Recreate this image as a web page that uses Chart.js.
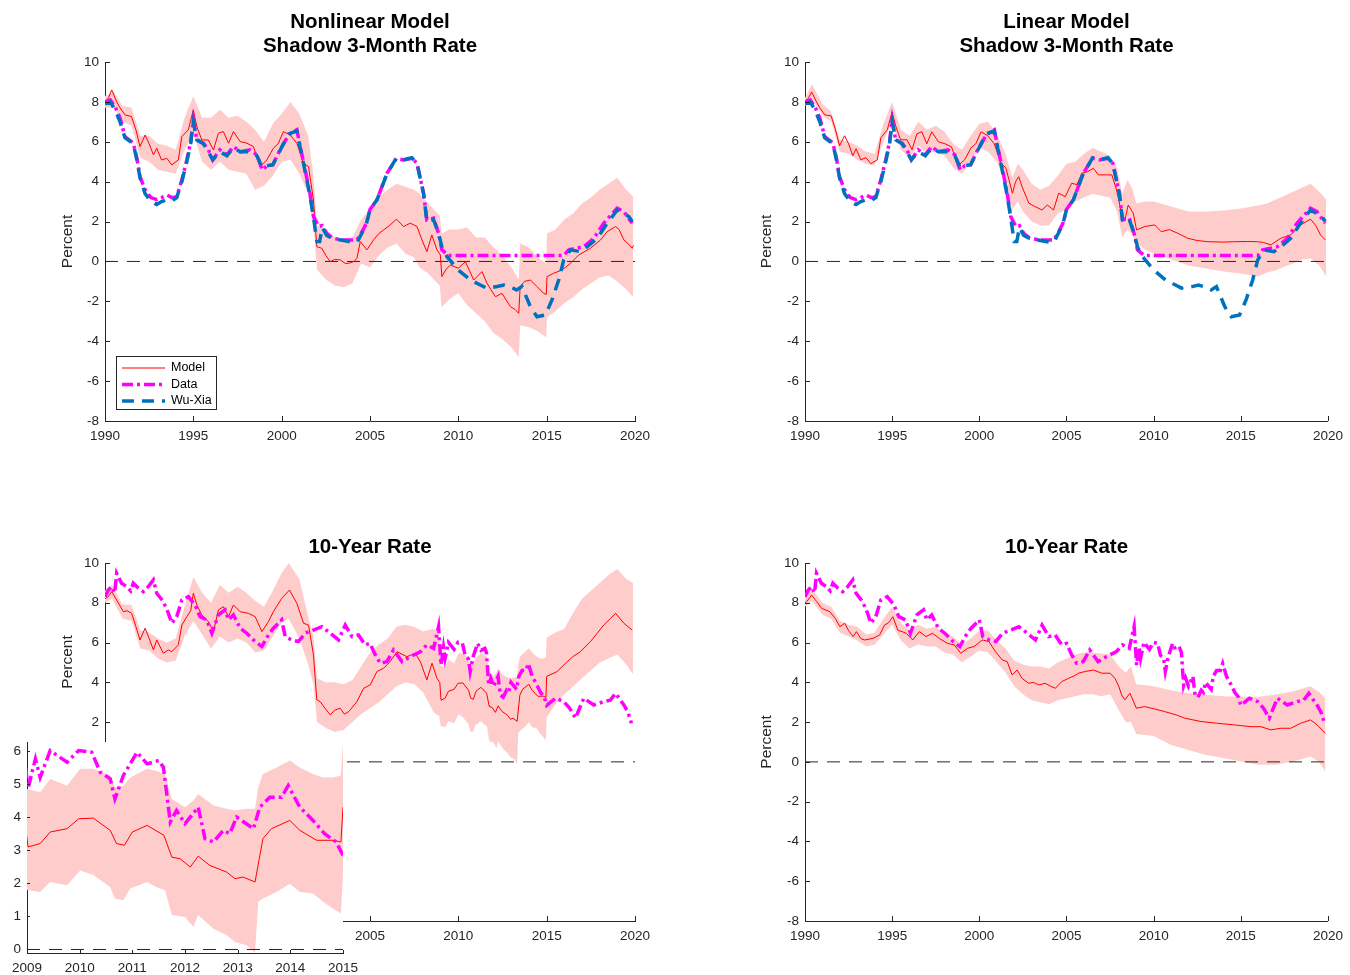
<!DOCTYPE html>
<html>
<head>
<meta charset="utf-8">
<title>Shadow Rates and 10-Year Rates</title>
<script src="https://cdn.jsdelivr.net/npm/chart.js@4.4.1/dist/chart.umd.min.js"></script>
<style>
  html, body { margin: 0; padding: 0; background: #ffffff; }
  #stage { position: relative; width: 1350px; height: 975px; overflow: hidden; }
  #stage canvas { position: absolute; left: 0; top: 0; }
</style>
</head>
<body>
<div id="stage">
  <canvas id="nlShort" width="1350" height="975"></canvas>
  <canvas id="linShort" width="1350" height="975"></canvas>
  <canvas id="nlLong" width="1350" height="975"></canvas>
  <canvas id="linLong" width="1350" height="975"></canvas>
  <canvas id="nlLongZoom" width="1350" height="975"></canvas>
</div>
<script>
// ---------- tick labels ----------
const yearTicks = [1990, 1995, 2000, 2005, 2010, 2015, 2020];
const rateTicks = [-8, -6, -4, -2, 0, 2, 4, 6, 8, 10];
const zoomYearTicks = [2009, 2010, 2011, 2012, 2013, 2014, 2015];
const zoomRateTicks = [0, 1, 2, 3, 4, 5, 6];

// ---------- observed 3-month rate ----------
const shortDataYears = [1990.0, 1990.3, 1990.57, 1990.85, 1991.13, 1991.6, 1991.8, 1991.98, 1992.27, 1992.6, 1992.93, 1993.2, 1993.5, 1993.8, 1994.06, 1994.35, 1994.63, 1994.85, 1995.0, 1995.2, 1995.57, 1995.85, 1996.1, 1996.5, 1996.9, 1997.27, 1997.65, 1998.2, 1998.6, 1998.9, 1999.16, 1999.5, 1999.9, 2000.4, 2000.86, 2001.05, 2001.33, 2001.6, 2001.8, 2002.1, 2002.3, 2002.55, 2002.9, 2003.5, 2004.26, 2004.5, 2004.8, 2005.0, 2005.4, 2005.96, 2006.5, 2006.9, 2007.37, 2007.66, 2008.03, 2008.22, 2008.6, 2008.88, 2009.07, 2009.45, 2015.97, 2016.25, 2017.1, 2017.67, 2018.23, 2018.99, 2019.37, 2019.84];
const shortDataValues = [8.0, 8.1, 7.76, 7.2, 6.26, 5.94, 5.2, 4.25, 3.6, 3.2, 3.1, 3.2, 3.33, 3.2, 3.25, 4.09, 5.09, 6.0, 7.1, 6.09, 5.93, 5.6, 5.09, 5.6, 5.34, 5.76, 5.5, 5.6, 5.34, 4.59, 4.79, 4.84, 5.59, 6.34, 6.6, 5.76, 4.59, 3.42, 2.25, 1.75, 1.8, 1.41, 1.16, 1.08, 1.08, 1.4, 1.92, 2.6, 3.1, 4.42, 5.17, 5.09, 5.17, 4.92, 3.42, 2.08, 2.17, 1.41, 0.58, 0.3, 0.3, 0.58, 0.74, 1.16, 1.92, 2.67, 2.5, 1.92];

// ---------- Wu-Xia shadow rate ----------
const wuXiaYears = [1990.0, 1990.3, 1990.57, 1990.85, 1991.13, 1991.6, 1991.8, 1991.98, 1992.27, 1992.6, 1992.93, 1993.2, 1993.5, 1993.8, 1994.06, 1994.35, 1994.63, 1994.85, 1995.0, 1995.2, 1995.57, 1995.85, 1996.1, 1996.5, 1996.9, 1997.27, 1997.65, 1998.2, 1998.6, 1998.9, 1999.16, 1999.5, 1999.9, 2000.4, 2000.86, 2001.05, 2001.33, 2001.6, 2001.8, 2002.0, 2002.15, 2002.3, 2002.55, 2002.9, 2003.5, 2004.1, 2004.3, 2004.5, 2004.8, 2005.0, 2005.4, 2005.96, 2006.5, 2006.9, 2007.37, 2007.66, 2008.03, 2008.22, 2008.6, 2008.88, 2009.07, 2009.36, 2010.0, 2010.68, 2011.25, 2011.6, 2012.2, 2012.57, 2013.0, 2013.3, 2013.6, 2014.08, 2014.45, 2014.93, 2015.3, 2015.68, 2015.97, 2016.35, 2016.9, 2017.3, 2017.86, 2018.3, 2018.99, 2019.65, 2019.84];
const wuXiaValues = [7.9, 8.0, 7.6, 7.0, 6.2, 5.9, 5.1, 4.2, 3.4, 3.0, 2.85, 3.0, 3.1, 3.05, 3.2, 4.0, 5.0, 5.9, 7.0, 6.1, 5.9, 5.5, 5.1, 5.5, 5.3, 5.7, 5.5, 5.5, 5.3, 4.7, 4.8, 4.85, 5.55, 6.4, 6.55, 5.7, 4.5, 3.3, 2.2, 1.0, 1.0, 1.7, 1.3, 1.15, 1.05, 0.95, 1.0, 1.35, 1.9, 2.6, 3.1, 4.4, 5.2, 5.1, 5.2, 4.9, 3.4, 2.0, 2.1, 1.4, 0.74, 0.24, -0.43, -0.93, -1.18, -1.34, -1.26, -1.18, -1.3, -1.43, -1.26, -2.27, -2.77, -2.68, -1.93, -0.93, 0.08, 0.58, 0.49, 0.74, 1.16, 1.75, 2.58, 2.25, 2.0];

// ---------- nonlinear model, shadow 3-month rate ----------
const nlShortYears = [1990.0, 1990.2, 1990.38, 1990.66, 1990.85, 1991.13, 1991.5, 1991.75, 1991.98, 1992.27, 1992.5, 1992.74, 1992.93, 1993.2, 1993.5, 1993.78, 1994.15, 1994.35, 1994.72, 1995.0, 1995.2, 1995.48, 1995.85, 1996.14, 1996.42, 1996.7, 1996.99, 1997.27, 1997.65, 1998.03, 1998.4, 1998.78, 1999.16, 1999.53, 1999.8, 2000.1, 2000.48, 2000.86, 2001.24, 2001.52, 2001.8, 2001.99, 2002.27, 2002.5, 2002.75, 2003.0, 2003.31, 2003.6, 2003.8, 2004.1, 2004.26, 2004.45, 2004.83, 2005.2, 2005.5, 2005.77, 2006.1, 2006.5, 2006.9, 2007.28, 2007.66, 2007.94, 2008.22, 2008.5, 2008.79, 2008.98, 2009.07, 2009.3, 2009.55, 2010.0, 2010.4, 2010.87, 2011.34, 2011.62, 2012.1, 2012.47, 2012.95, 2013.2, 2013.42, 2013.5, 2013.75, 2014.08, 2014.45, 2014.83, 2014.98, 2015.02, 2015.4, 2015.87, 2016.35, 2016.82, 2017.48, 2018.05, 2018.42, 2018.9, 2019.1, 2019.37, 2019.6, 2019.84, 2019.92];
const nlShortValues = [8.0, 8.2, 8.6, 8.0, 7.7, 7.35, 7.26, 6.6, 5.76, 6.34, 5.9, 5.34, 5.67, 5.09, 5.17, 4.84, 5.09, 6.26, 6.6, 7.6, 6.76, 6.09, 6.09, 5.59, 6.43, 6.51, 5.93, 6.51, 6.01, 5.93, 5.76, 4.75, 5.09, 5.68, 5.9, 6.51, 6.34, 5.93, 4.92, 4.75, 3.08, 0.74, 0.66, 0.3, -0.01, 0.1, 0.08, -0.1, -0.09, 0.0, 0.16, 0.99, 0.58, 1.08, 1.4, 1.58, 1.8, 2.12, 1.75, 1.92, 1.75, 1.08, 0.49, 1.33, 0.58, 0.33, -0.76, -0.4, -0.18, -0.34, -0.01, -0.93, -0.51, -1.09, -1.77, -1.6, -2.27, -2.4, -2.6, -1.26, -1.0, -0.93, -1.26, -1.6, -1.65, -0.76, -0.59, -0.43, -0.09, 0.33, 0.66, 1.08, 1.49, 1.75, 1.6, 1.08, 0.9, 0.66, 0.8];
const nlShortBandYears = [1990.0, 1990.5, 1991.0, 1991.5, 1992.0, 1992.5, 1993.0, 1993.5, 1994.0, 1994.5, 1995.0, 1995.5, 1996.0, 1996.5, 1997.0, 1997.5, 1998.0, 1998.5, 1999.0, 1999.5, 2000.0, 2000.5, 2001.0, 2001.5, 2001.8, 2002.0, 2002.5, 2003.0, 2003.5, 2004.0, 2004.5, 2005.0, 2005.5, 2006.0, 2006.5, 2007.0, 2007.5, 2007.8, 2008.3, 2008.6, 2008.95, 2009.05, 2009.5, 2010.0, 2010.5, 2011.0, 2011.5, 2012.0, 2012.5, 2013.0, 2013.42, 2013.5, 2014.0, 2014.5, 2014.97, 2015.02, 2015.5, 2016.0, 2016.5, 2017.0, 2017.5, 2018.0, 2018.5, 2019.0, 2019.5, 2019.9];
const nlShortBandLo = [7.7, 7.7, 7.0, 6.8, 5.2, 5.0, 4.6, 4.5, 4.4, 5.6, 6.4, 5.0, 4.6, 5.0, 4.6, 4.5, 4.4, 3.6, 3.8, 4.3, 5.0, 5.1, 4.4, 3.4, 1.8, -0.4, -0.9, -1.2, -1.3, -1.1, -0.1, -0.3, 0.3, 0.7, 0.9, 0.4, 0.2, -0.3, -0.6, -0.9, -1.2, -2.3, -1.9, -1.6, -2.2, -2.6, -3.0, -3.6, -3.9, -4.3, -4.8, -3.2, -3.3, -3.5, -3.8, -2.8, -2.5, -2.1, -1.8, -1.4, -1.1, -0.8, -0.7, -1.0, -1.4, -1.8];
const nlShortBandHi = [8.3, 8.5, 7.8, 7.7, 6.3, 6.3, 5.9, 5.8, 5.6, 7.2, 8.3, 7.2, 7.2, 7.6, 7.2, 7.3, 7.0, 6.6, 6.0, 6.9, 7.4, 8.0, 7.4, 6.3, 4.3, 1.8, 1.6, 1.2, 1.1, 1.2, 2.1, 2.6, 3.2, 3.6, 3.9, 3.75, 3.6, 3.4, 2.9, 2.6, 2.3, 1.4, 1.6, 1.6, 1.7, 1.2, 1.2, 0.7, 0.3, -0.3, -0.9, 0.9, 0.7, 0.2, -0.1, 1.4, 1.6, 2.1, 2.4, 2.9, 3.2, 3.6, 3.9, 4.2, 3.6, 3.25];

// ---------- linear model, shadow 3-month rate ----------
const linShortYears = [1990.0, 1990.2, 1990.38, 1990.66, 1990.85, 1991.13, 1991.5, 1991.75, 1991.98, 1992.27, 1992.5, 1992.74, 1992.93, 1993.2, 1993.5, 1993.78, 1994.15, 1994.35, 1994.72, 1995.0, 1995.2, 1995.48, 1995.85, 1996.14, 1996.42, 1996.7, 1996.99, 1997.27, 1997.65, 1998.03, 1998.4, 1998.78, 1999.16, 1999.53, 1999.8, 2000.1, 2000.48, 2000.86, 2001.24, 2001.52, 2001.9, 2002.08, 2002.26, 2002.45, 2002.84, 2003.2, 2003.6, 2003.9, 2004.26, 2004.55, 2004.93, 2005.3, 2005.6, 2005.88, 2006.2, 2006.54, 2006.83, 2007.21, 2007.6, 2007.87, 2008.16, 2008.35, 2008.54, 2008.83, 2009.02, 2009.49, 2010.06, 2010.44, 2010.9, 2011.39, 2011.96, 2012.5, 2013.1, 2014.0, 2014.63, 2015.4, 2015.96, 2016.3, 2016.72, 2017.29, 2017.86, 2018.43, 2019.0, 2019.3, 2019.57, 2019.85];
const linShortValues = [8.0, 8.2, 8.5, 8.0, 7.7, 7.35, 7.3, 6.6, 5.8, 6.3, 5.9, 5.3, 5.65, 5.1, 5.2, 4.9, 5.1, 6.2, 6.6, 7.5, 6.8, 6.1, 6.1, 5.6, 6.4, 6.5, 5.9, 6.5, 6.0, 5.9, 5.75, 4.8, 5.1, 5.7, 5.9, 6.5, 6.3, 5.9, 4.92, 4.7, 3.42, 4.0, 4.25, 3.75, 2.92, 2.75, 2.58, 2.83, 2.58, 3.42, 3.25, 3.92, 3.85, 4.42, 4.5, 4.67, 4.34, 4.34, 4.34, 3.59, 2.42, 2.08, 2.83, 2.42, 1.58, 1.75, 1.83, 1.49, 1.6, 1.41, 1.16, 1.05, 0.99, 0.97, 0.99, 1.0, 0.99, 0.95, 0.83, 1.16, 1.33, 1.83, 2.12, 1.8, 1.33, 1.08];
const linShortBandYears = [1990.0, 1990.4, 1991.0, 1991.5, 1992.0, 1992.5, 1993.0, 1993.5, 1994.0, 1994.5, 1995.0, 1995.5, 1996.0, 1996.5, 1997.0, 1997.5, 1998.0, 1998.5, 1999.0, 1999.5, 2000.0, 2000.5, 2001.0, 2001.5, 2001.9, 2002.2, 2002.5, 2003.0, 2003.5, 2004.0, 2004.5, 2005.0, 2005.5, 2006.0, 2006.5, 2007.0, 2007.5, 2007.9, 2008.2, 2008.5, 2008.8, 2009.0, 2009.5, 2010.0, 2011.0, 2012.0, 2013.0, 2014.0, 2015.0, 2016.0, 2016.5, 2017.0, 2017.5, 2018.0, 2018.5, 2019.0, 2019.5, 2019.9];
const linShortBandLo = [7.8, 8.2, 7.3, 7.0, 5.5, 5.4, 5.1, 4.9, 4.8, 6.0, 7.0, 5.6, 5.2, 5.8, 5.4, 5.5, 5.3, 4.7, 4.4, 5.0, 5.7, 5.5, 5.0, 3.9, 2.6, 3.0, 2.5, 2.0, 1.8, 1.8, 2.4, 2.6, 3.0, 3.2, 3.4, 3.3, 3.2, 2.5, 1.2, 1.6, 1.3, 0.9, 0.6, 0.4, 0.1, -0.2, -0.35, -0.5, -0.6, -0.75, -0.55, -0.45, -0.25, -0.1, 0.1, 0.15, -0.2, -0.75];
const linShortBandHi = [8.2, 8.9, 7.9, 7.5, 6.1, 6.0, 5.8, 5.5, 5.4, 6.9, 8.0, 6.6, 6.3, 7.0, 6.6, 6.8, 6.5, 5.9, 5.6, 6.3, 6.9, 7.0, 6.4, 5.4, 4.2, 4.9, 4.6, 3.9, 3.6, 3.8, 4.3, 4.9, 5.0, 5.4, 5.7, 5.5, 5.3, 4.7, 3.4, 4.1, 3.6, 2.9, 3.0, 3.0, 2.75, 2.5, 2.5, 2.55, 2.65, 2.8, 2.9, 3.1, 3.3, 3.5, 3.7, 3.9, 3.5, 3.1];

// ---------- observed 10-year rate ----------
const longDataYears = [1990.0, 1990.19, 1990.38, 1990.55, 1990.66, 1990.94, 1991.23, 1991.45, 1991.6, 1991.89, 1992.17, 1992.45, 1992.74, 1992.93, 1993.3, 1993.59, 1993.78, 1994.06, 1994.35, 1994.72, 1995.1, 1995.38, 1995.76, 1996.05, 1996.42, 1996.8, 1996.99, 1997.27, 1997.65, 1998.02, 1998.5, 1998.88, 1999.25, 1999.53, 2000.0, 2000.2, 2000.58, 2000.95, 2001.33, 2001.8, 2002.27, 2002.75, 2003.22, 2003.6, 2003.98, 2004.35, 2004.73, 2005.0, 2005.3, 2005.58, 2005.96, 2006.33, 2006.81, 2007.28, 2007.85, 2008.22, 2008.6, 2008.88, 2009.02, 2009.16, 2009.25, 2009.44, 2009.76, 2009.98, 2010.23, 2010.39, 2010.58, 2010.67, 2010.83, 2011.09, 2011.28, 2011.5, 2011.59, 2011.72, 2011.84, 2012.0, 2012.25, 2012.38, 2012.54, 2012.73, 2012.85, 2012.98, 2013.3, 2013.42, 2013.61, 2013.83, 2013.96, 2014.18, 2014.43, 2014.65, 2014.87, 2015.0, 2015.5, 2015.97, 2016.3, 2016.63, 2017.1, 2017.67, 2018.23, 2018.6, 2018.9, 2019.37, 2019.6, 2019.8];
const longDataValues = [8.3, 8.64, 8.81, 8.5, 9.48, 8.98, 8.81, 8.6, 8.98, 8.73, 8.56, 8.81, 9.15, 8.48, 8.06, 7.47, 6.97, 7.3, 8.14, 8.31, 7.89, 7.3, 7.14, 6.47, 7.39, 7.64, 7.14, 7.39, 6.72, 6.47, 6.05, 5.8, 6.38, 6.72, 7.14, 6.3, 6.13, 6.05, 6.47, 6.63, 6.8, 6.47, 6.13, 6.88, 6.3, 6.38, 5.88, 5.96, 5.38, 4.96, 5.04, 5.63, 5.04, 5.29, 5.54, 5.88, 5.71, 6.8, 4.87, 5.76, 5.2, 6.01, 5.66, 6.01, 5.96, 5.36, 5.16, 4.55, 5.26, 5.96, 5.61, 5.71, 5.51, 3.85, 4.2, 3.8, 4.3, 3.35, 3.25, 3.6, 3.5, 4.0, 3.65, 4.3, 4.6, 4.6, 4.95, 4.3, 3.9, 3.5, 3.25, 2.84, 3.2, 3.03, 2.7, 2.2, 3.2, 2.86, 3.03, 3.1, 3.45, 2.86, 2.5, 1.94];

// ---------- nonlinear model, 10-year rate ----------
const nlLongYears = [1990.0, 1990.19, 1990.38, 1990.66, 1991.04, 1991.25, 1991.51, 1991.75, 1991.98, 1992.27, 1992.5, 1992.74, 1992.93, 1993.3, 1993.59, 1993.78, 1994.15, 1994.35, 1994.63, 1994.85, 1995.0, 1995.2, 1995.48, 1995.85, 1996.14, 1996.42, 1996.7, 1996.99, 1997.27, 1997.65, 1998.12, 1998.5, 1998.88, 1999.25, 1999.53, 2000.0, 2000.44, 2000.86, 2001.24, 2001.52, 2001.8, 2001.99, 2002.18, 2002.45, 2002.75, 2003.0, 2003.31, 2003.55, 2003.8, 2004.26, 2004.64, 2005.01, 2005.39, 2005.77, 2006.1, 2006.53, 2007.09, 2007.56, 2007.85, 2008.22, 2008.51, 2008.79, 2008.95, 2009.02, 2009.25, 2009.44, 2009.76, 2009.98, 2010.26, 2010.58, 2010.7, 2010.85, 2011.0, 2011.28, 2011.6, 2011.75, 2011.91, 2012.1, 2012.25, 2012.47, 2012.79, 2012.95, 2013.1, 2013.33, 2013.48, 2013.64, 2013.99, 2014.18, 2014.5, 2014.81, 2014.96, 2015.0, 2015.59, 2016.16, 2016.5, 2016.91, 2017.48, 2017.8, 2018.23, 2018.6, 2018.9, 2019.37, 2019.6, 2019.84];
const nlLongValues = [8.2, 8.31, 8.56, 8.14, 7.55, 7.6, 7.47, 6.8, 6.13, 6.72, 6.2, 5.63, 6.13, 5.46, 5.63, 5.54, 5.88, 6.88, 7.3, 7.6, 8.48, 7.89, 7.39, 7.05, 6.55, 7.64, 7.8, 7.3, 7.89, 7.55, 7.47, 7.3, 6.55, 7.05, 7.55, 8.22, 8.64, 7.97, 6.97, 6.88, 5.38, 3.12, 3.03, 2.7, 2.36, 2.6, 2.7, 2.4, 2.53, 3.03, 3.7, 3.87, 4.54, 4.71, 5.0, 5.54, 5.29, 5.46, 5.04, 4.12, 4.96, 4.2, 4.0, 3.1, 3.2, 3.55, 3.65, 3.95, 3.97, 3.6, 3.2, 3.15, 3.55, 3.75, 3.45, 2.79, 2.74, 2.49, 2.82, 2.54, 2.34, 2.14, 2.19, 2.04, 3.35, 3.65, 3.9, 3.6, 3.3, 3.3, 3.25, 4.3, 4.54, 5.04, 5.3, 5.54, 6.05, 6.4, 6.88, 7.2, 7.47, 6.97, 6.8, 6.63];
const nlLongBandYears = [1990.0, 1990.4, 1991.0, 1991.5, 1992.0, 1992.5, 1993.0, 1993.5, 1994.0, 1994.5, 1995.0, 1995.5, 1996.0, 1996.5, 1997.0, 1997.5, 1998.0, 1998.5, 1999.0, 1999.5, 2000.0, 2000.4, 2001.0, 2001.5, 2001.8, 2002.0, 2002.5, 2003.0, 2003.5, 2004.0, 2004.5, 2005.0, 2005.5, 2006.0, 2006.5, 2007.0, 2007.5, 2008.0, 2008.6, 2008.92, 2009.0, 2009.25, 2009.44, 2009.76, 2010.01, 2010.26, 2010.58, 2010.67, 2010.83, 2010.96, 2011.28, 2011.45, 2011.62, 2011.75, 2012.0, 2012.16, 2012.25, 2012.54, 2012.79, 2012.95, 2013.17, 2013.33, 2013.39, 2013.48, 2013.74, 2013.99, 2014.18, 2014.43, 2014.62, 2014.81, 2014.96, 2015.0, 2015.5, 2016.0, 2016.5, 2017.0, 2017.5, 2018.0, 2018.5, 2019.0, 2019.5, 2019.9];
const nlLongBandLo = [8.0, 8.2, 7.2, 7.1, 5.7, 5.6, 5.2, 5.0, 5.1, 6.3, 7.1, 6.4, 5.7, 6.3, 6.0, 6.2, 6.0, 5.5, 5.6, 6.3, 7.0, 7.2, 6.2, 4.9, 3.9, 2.0, 1.7, 1.5, 1.6, 2.0, 2.4, 2.7, 3.0, 3.4, 3.8, 4.0, 3.9, 3.5, 2.5, 2.3, 1.8, 1.74, 2.04, 1.94, 2.39, 2.25, 1.89, 1.54, 1.49, 1.84, 2.04, 1.89, 1.79, 1.04, 0.98, 0.68, 1.04, 0.63, 0.43, 0.23, 0.13, -0.1, 1.44, 1.54, 1.74, 1.99, 1.74, 1.69, 1.44, 1.24, 1.09, 2.24, 2.9, 3.4, 3.8, 4.2, 4.6, 5.0, 5.2, 5.4, 4.9, 4.4];
const nlLongBandHi = [8.6, 8.9, 7.9, 7.9, 6.6, 6.5, 6.2, 6.0, 6.2, 7.8, 9.3, 8.5, 8.0, 8.9, 8.5, 8.8, 8.5, 8.1, 7.8, 8.6, 9.5, 10.0, 9.2, 7.3, 6.3, 4.2, 4.0, 4.0, 3.9, 4.1, 4.8, 5.5, 5.9, 6.2, 6.8, 6.9, 6.8, 6.55, 6.7, 6.5, 4.85, 4.75, 5.15, 4.95, 5.46, 5.46, 5.26, 4.9, 4.95, 5.2, 5.46, 5.4, 5.3, 4.55, 4.3, 4.5, 4.7, 4.35, 4.25, 4.2, 4.25, 4.25, 4.9, 5.3, 5.5, 5.71, 5.5, 5.3, 5.2, 5.2, 5.26, 6.26, 6.5, 6.7, 7.5, 8.2, 8.6, 9.0, 9.4, 9.7, 9.2, 9.0];

// ---------- linear model, 10-year rate ----------
const linLongYears = [1990.0, 1990.1, 1990.38, 1990.67, 1990.95, 1991.43, 1991.75, 1992.0, 1992.28, 1992.5, 1992.76, 1992.95, 1993.2, 1993.42, 1993.9, 1994.28, 1994.56, 1994.8, 1995.04, 1995.32, 1995.8, 1996.18, 1996.56, 1996.94, 1997.32, 1997.7, 1998.17, 1998.56, 1998.94, 1999.32, 1999.7, 2000.17, 2000.55, 2000.93, 2001.31, 2001.6, 2001.88, 2002.17, 2002.45, 2002.83, 2003.1, 2003.41, 2003.78, 2004.1, 2004.36, 2004.73, 2005.12, 2005.5, 2005.69, 2006.1, 2006.54, 2007.02, 2007.5, 2007.78, 2008.0, 2008.16, 2008.35, 2008.64, 2009.01, 2009.49, 2010.06, 2010.63, 2011.3, 2011.77, 2012.72, 2013.67, 2014.63, 2015.58, 2016.15, 2016.72, 2017.29, 2017.86, 2018.43, 2019.0, 2019.38, 2019.85];
const linLongValues = [8.0, 8.06, 8.39, 8.06, 7.72, 7.55, 7.2, 6.8, 6.97, 6.6, 6.3, 6.55, 6.2, 6.13, 6.21, 6.38, 6.88, 7.0, 7.3, 6.63, 6.47, 6.13, 6.55, 6.3, 6.47, 6.21, 5.96, 5.88, 5.46, 5.71, 5.8, 6.13, 6.05, 5.54, 5.13, 5.04, 4.37, 4.62, 4.2, 3.95, 4.0, 3.87, 3.95, 3.8, 3.7, 4.04, 4.2, 4.35, 4.46, 4.55, 4.62, 4.46, 4.46, 4.2, 3.8, 3.37, 3.12, 3.45, 2.7, 2.78, 2.66, 2.53, 2.36, 2.2, 2.03, 1.94, 1.86, 1.77, 1.77, 1.61, 1.69, 1.69, 1.94, 2.11, 1.86, 1.44];
const linLongBandYears = [1990.0, 1990.4, 1991.0, 1991.5, 1992.0, 1992.5, 1993.0, 1993.5, 1994.0, 1994.5, 1995.0, 1995.5, 1996.0, 1996.5, 1997.0, 1997.5, 1998.0, 1998.5, 1999.0, 1999.5, 2000.0, 2000.5, 2001.0, 2001.5, 2002.0, 2002.5, 2003.0, 2003.5, 2004.0, 2004.5, 2005.0, 2005.5, 2006.0, 2006.5, 2007.0, 2007.5, 2008.0, 2008.4, 2008.7, 2009.0, 2010.0, 2011.0, 2012.0, 2013.0, 2014.0, 2015.0, 2016.0, 2017.0, 2018.0, 2019.0, 2019.5, 2019.85];
const linLongBandLo = [7.8, 8.1, 7.4, 7.2, 6.5, 6.3, 6.1, 5.8, 5.9, 6.4, 6.9, 6.1, 5.7, 5.9, 5.8, 5.8, 5.5, 5.4, 5.0, 5.3, 5.6, 5.5, 5.0, 4.5, 3.8, 3.4, 3.1, 3.0, 2.9, 3.1, 3.2, 3.3, 3.4, 3.4, 3.3, 3.4, 2.6, 2.0, 2.0, 1.4, 1.3, 0.85, 0.6, 0.35, 0.2, 0.02, -0.15, -0.15, 0.02, 0.27, 0.0, -0.49];
const linLongBandHi = [8.3, 8.7, 8.0, 7.8, 7.1, 6.9, 6.8, 6.4, 6.5, 7.2, 7.8, 7.0, 6.6, 6.9, 6.7, 6.8, 6.4, 6.3, 5.9, 6.2, 6.6, 6.6, 6.1, 5.7, 5.1, 4.9, 4.8, 4.8, 4.7, 5.0, 5.2, 5.4, 5.5, 5.5, 5.45, 5.4, 4.8, 4.5, 4.8, 3.9, 3.8, 3.6, 3.45, 3.37, 3.3, 3.28, 3.28, 3.37, 3.55, 3.8, 3.5, 3.2];

// ---------- drawing ----------
const FONT = "'Liberation Sans', Arial, Helvetica, sans-serif";
const INK = '#262626';
const RED = '#ff0000';
const MAGENTA = '#ff00ff';
const BLUE = '#0072bd';
const PINK = '#ffcccc';
const DATA_DASH = [11, 4, 3, 4];
const WUXIA_DASH = [12, 8];
const ZERO_DASH = [13, 9];
const PAGE_W = 1350, PAGE_H = 975;

function series(xs, ys) { return xs.map((x, i) => ({ x: x, y: ys[i] })); }

function lineSet(label, xs, ys, color, width, dash) {
  return {
    label: label, data: series(xs, ys), borderColor: color, borderWidth: width,
    borderDash: dash || [], borderCapStyle: 'butt', borderJoinStyle: 'miter',
    pointRadius: 0, pointHoverRadius: 0, tension: 0, fill: false, clip: 0
  };
}

function bandSets(xs, lo, hi) {
  return [
    { label: 'upper', data: series(xs, hi), borderWidth: 0, borderColor: 'rgba(0,0,0,0)',
      backgroundColor: PINK, pointRadius: 0, tension: 0, fill: '+1', clip: 0 },
    { label: 'lower', data: series(xs, lo), borderWidth: 0, borderColor: 'rgba(0,0,0,0)',
      backgroundColor: PINK, pointRadius: 0, tension: 0, fill: false, clip: 0 }
  ];
}

function decoPlugin(spec) {
  return {
    id: 'deco',
    beforeDraw(chart) {
      if (!spec.backdrop) return;
      const a = chart.chartArea, ctx = chart.ctx;
      ctx.save();
      ctx.fillStyle = '#ffffff';
      ctx.fillRect(a.left, a.top, a.right - a.left, a.bottom - a.top);
      ctx.restore();
    },
    afterDraw(chart) {
      const ctx = chart.ctx, a = chart.chartArea;
      const xs = chart.scales.x, ys = chart.scales.y;
      ctx.save();
      // inward tick marks
      ctx.strokeStyle = INK;
      ctx.lineWidth = 1;
      ctx.setLineDash([]);
      ctx.beginPath();
      xs.ticks.forEach(t => {
        const px = Math.round(xs.getPixelForValue(t.value)) + 0.5;
        ctx.moveTo(px, a.bottom);
        ctx.lineTo(px, a.bottom - spec.tickLen);
      });
      ys.ticks.forEach(t => {
        const py = Math.round(ys.getPixelForValue(t.value)) + 0.5;
        ctx.moveTo(a.left, py);
        ctx.lineTo(a.left + spec.tickLen, py);
      });
      ctx.stroke();
      ctx.fillStyle = '#000000';
      // title
      if (spec.title) {
        ctx.font = 'bold 20.5px ' + FONT;
        ctx.textAlign = 'center';
        ctx.textBaseline = 'alphabetic';
        const cx = (a.left + a.right) / 2;
        spec.title.forEach((line, i) => ctx.fillText(line, cx, spec.titleBase + i * 24));
      }
      // y-axis label
      if (spec.yLabel) {
        ctx.fillStyle = INK;
        ctx.font = '15.5px ' + FONT;
        ctx.translate(spec.yLabelX, spec.yLabelY);
        ctx.rotate(-Math.PI / 2);
        ctx.textAlign = 'center';
        ctx.textBaseline = 'middle';
        ctx.fillText(spec.yLabel, 0, 0);
        ctx.setTransform(1, 0, 0, 1, 0, 0);
      }
      // legend
      if (spec.legend) {
        const L = spec.legend;
        ctx.fillStyle = '#ffffff';
        ctx.fillRect(L.x, L.y, L.w, L.h);
        ctx.strokeStyle = INK;
        ctx.lineWidth = 1;
        ctx.strokeRect(L.x + 0.5, L.y + 0.5, L.w, L.h);
        ctx.font = '12.5px ' + FONT;
        ctx.textAlign = 'left';
        ctx.textBaseline = 'middle';
        L.items.forEach((it, i) => {
          const yy = L.y + 12 + i * 16.5;
          ctx.save();
          ctx.strokeStyle = it.color;
          ctx.lineWidth = it.width;
          ctx.setLineDash(it.dash);
          ctx.lineCap = 'butt';
          ctx.beginPath();
          ctx.moveTo(L.x + 6, yy);
          ctx.lineTo(L.x + 49, yy);
          ctx.stroke();
          ctx.restore();
          ctx.fillStyle = '#000000';
          ctx.fillText(it.text, L.x + 55, yy);
        });
      }
      ctx.restore();
    }
  };
}

function makeChart(id, area, frame, datasets, spec) {
  const yW = frame.yW, xH = frame.xH;
  const tickFont = { family: FONT, size: 13.5 };
  return new Chart(document.getElementById(id), {
    type: 'line',
    data: { datasets: datasets },
    options: {
      responsive: false,
      devicePixelRatio: 1,
      animation: false,
      events: [],
      layout: { padding: { left: area.left - yW, top: area.top, right: PAGE_W - area.right, bottom: PAGE_H - area.bottom - xH } },
      plugins: { legend: { display: false }, tooltip: { enabled: false }, title: { display: false } },
      scales: {
        x: {
          type: 'linear', min: frame.xMin, max: frame.xMax, z: 1,
          afterBuildTicks: s => { s.ticks = frame.xTicks.map(v => ({ value: v })); },
          afterFit: s => { s.height = xH; },
          grid: { display: false, drawTicks: false },
          border: { display: true, color: INK, width: 1 },
          ticks: { callback: v => String(v), font: tickFont, color: INK, padding: 7, autoSkip: false, maxRotation: 0, minRotation: 0 }
        },
        y: {
          type: 'linear', min: frame.yMin, max: frame.yMax, z: 1,
          afterBuildTicks: s => { s.ticks = frame.yTicks.map(v => ({ value: v })); },
          afterFit: s => { s.width = yW; },
          grid: { display: false, drawTicks: false },
          border: { display: true, color: INK, width: 1 },
          ticks: { callback: v => String(v), font: tickFont, color: INK, padding: 6, autoSkip: false }
        }
      }
    },
    plugins: [decoPlugin(spec)]
  });
}

const mainFrame = { xMin: 1990, xMax: 2020, yMin: -8, yMax: 10, xTicks: yearTicks, yTicks: rateTicks, yW: 40, xH: 30 };
const zoomFrame = { xMin: 2009, xMax: 2015, yMin: -0.106, yMax: 6.27, xTicks: zoomYearTicks, yTicks: zoomRateTicks, yW: 20, xH: 20 };

function zeroLine(frame) {
  return lineSet('zero', [frame.xMin, frame.xMax], [0, 0], INK, 1, ZERO_DASH);
}

// Nonlinear model: shadow 3-month rate
makeChart('nlShort', { left: 105, top: 62, right: 635, bottom: 421 }, mainFrame, [
  lineSet('Wu-Xia', wuXiaYears, wuXiaValues, BLUE, 3.5, WUXIA_DASH),
  lineSet('Data', shortDataYears, shortDataValues, MAGENTA, 3.5, DATA_DASH),
  lineSet('Model', nlShortYears, nlShortValues, RED, 1, []),
  zeroLine(mainFrame),
  ...bandSets(nlShortBandYears, nlShortBandLo, nlShortBandHi)
], {
  tickLen: 5, title: ['Nonlinear Model', 'Shadow 3-Month Rate'], titleBase: 28,
  yLabel: 'Percent', yLabelX: 68, yLabelY: 241.5,
  legend: { x: 116, y: 356, w: 100, h: 53, items: [
    { text: 'Model', color: RED, width: 1, dash: [] },
    { text: 'Data', color: MAGENTA, width: 3.5, dash: DATA_DASH },
    { text: 'Wu-Xia', color: BLUE, width: 3.5, dash: WUXIA_DASH }
  ] }
});

// Linear model: shadow 3-month rate
makeChart('linShort', { left: 805, top: 62, right: 1331, bottom: 421 }, mainFrame, [
  lineSet('Wu-Xia', wuXiaYears, wuXiaValues, BLUE, 3.5, WUXIA_DASH),
  lineSet('Data', shortDataYears, shortDataValues, MAGENTA, 3.5, DATA_DASH),
  lineSet('Model', linShortYears, linShortValues, RED, 1, []),
  zeroLine(mainFrame),
  ...bandSets(linShortBandYears, linShortBandLo, linShortBandHi)
], {
  tickLen: 5, title: ['Linear Model', 'Shadow 3-Month Rate'], titleBase: 28,
  yLabel: 'Percent', yLabelX: 767, yLabelY: 241.5
});

// Nonlinear model: 10-year rate
makeChart('nlLong', { left: 105, top: 563, right: 635, bottom: 921 }, mainFrame, [
  lineSet('Data', longDataYears, longDataValues, MAGENTA, 3.5, DATA_DASH),
  lineSet('Model', nlLongYears, nlLongValues, RED, 1, []),
  zeroLine(mainFrame),
  ...bandSets(nlLongBandYears, nlLongBandLo, nlLongBandHi)
], {
  tickLen: 5, title: ['10-Year Rate'], titleBase: 553,
  yLabel: 'Percent', yLabelX: 68, yLabelY: 662
});

// Linear model: 10-year rate
makeChart('linLong', { left: 805, top: 563, right: 1331, bottom: 921 }, mainFrame, [
  lineSet('Data', longDataYears, longDataValues, MAGENTA, 3.5, DATA_DASH),
  lineSet('Model', linLongYears, linLongValues, RED, 1, []),
  zeroLine(mainFrame),
  ...bandSets(linLongBandYears, linLongBandLo, linLongBandHi)
], {
  tickLen: 5, title: ['10-Year Rate'], titleBase: 553,
  yLabel: 'Percent', yLabelX: 767, yLabelY: 742
});

// Close-up of the nonlinear 10-year rate, 2009-2015
makeChart('nlLongZoom', { left: 27, top: 742, right: 343, bottom: 953 }, zoomFrame, [
  lineSet('Data', longDataYears, longDataValues, MAGENTA, 3.5, DATA_DASH),
  lineSet('Model', nlLongYears, nlLongValues, RED, 1, []),
  zeroLine(zoomFrame),
  ...bandSets(nlLongBandYears, nlLongBandLo, nlLongBandHi)
], { tickLen: 3, backdrop: true });
</script>
</body>
</html>
